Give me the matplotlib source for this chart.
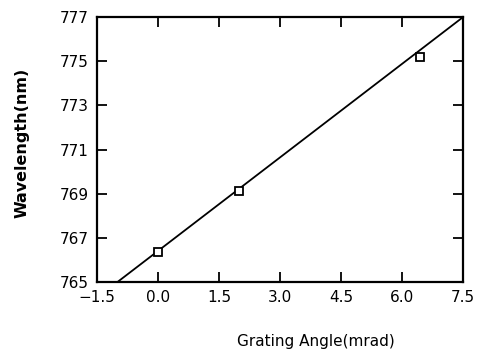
import matplotlib
matplotlib.use("Agg")
import matplotlib.pyplot as plt

# data points
angle = [0.0, 2.0, 6.45]
wavelength = [766.35, 769.12, 775.2]
# fitted line endpoints
fit_x = [-1.0, 7.5]
fit_y = [765.0, 777.0]

xticks = [-1.5, 0.0, 1.5, 3.0, 4.5, 6.0, 7.5]
yticks = [765, 767, 769, 771, 773, 775, 777]

plt.rcParams['font.family'] = ['DejaVu Sans']
fig = plt.figure(figsize=(4.8, 3.54), dpi=100)
ax = fig.add_axes([0.202, 0.203, 0.763, 0.749])

ax.plot(fit_x, fit_y, color='black', lw=1.3)
ax.plot(angle, wavelength, linestyle='none', marker='s', ms=6, mfc='white', mec='black', mew=1.3)

ax.set_xlim(-1.5, 7.5)
ax.set_ylim(765, 777)
ax.set_xticks(xticks)
ax.set_xticklabels(['\u22121.5', '0.0', '1.5', '3.0', '4.5', '6.0', '7.5'])
ax.set_yticks(yticks)
ax.tick_params(direction='in', length=7, width=1.3, top=True, right=True, labelsize=11, pad=6)
for s in ax.spines.values():
    s.set_linewidth(1.6)

ax.set_xlabel('Grating Angle(mrad)', fontsize=11)
ax.xaxis.set_label_coords(0.598, -0.195)
ax.set_ylabel('Wavelength(nm)', fontsize=11.5, fontweight='bold')
ax.yaxis.set_label_coords(-0.184, 0.525)

fig.savefig('out.png', dpi=100)
